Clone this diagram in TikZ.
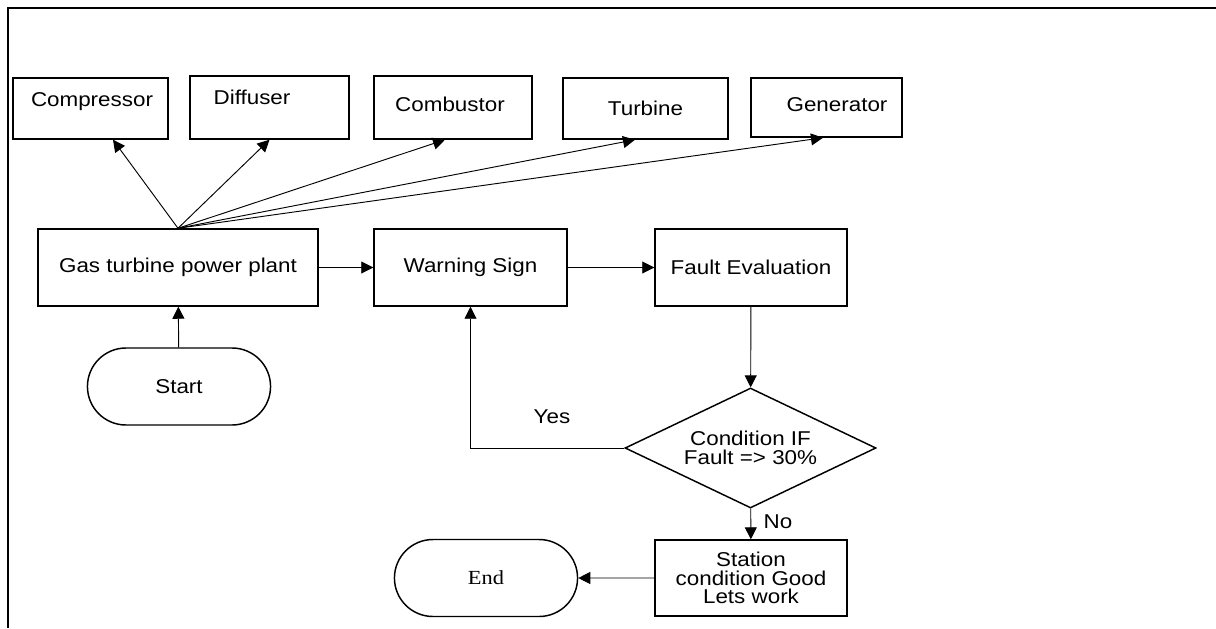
\documentclass[tikz,border=0pt]{standalone}
\usepackage{fontspec}
\setmainfont{Liberation Sans}[FakeStretch=1.12]
\newfontfamily\serifend{Liberation Serif}[FakeStretch=1.12]
\usetikzlibrary{arrows.meta,shapes.geometric,shapes.misc}
\newlength\pxu
\setlength\pxu{0.75pt}

\begin{document}
\begin{tikzpicture}[->,>={Triangle[length=9pt,width=9pt]},x=0.75pt,y=-0.75pt]
        \tikzstyle{every node}=[font=\fontsize{15}{14}\selectfont]
        \tikzstyle{unit}=[rectangle,draw=black,line width=1.1pt,inner sep=0pt,align=center]
        \tikzstyle{terminal}=[rounded rectangle,draw=black,line width=1.1pt,minimum width=192\pxu,minimum height=77\pxu]
        \tikzstyle{decision}=[diamond,draw=black,line width=1.1pt,inner sep=0pt,aspect=2.1,align=center]
        \tikzstyle{edge}=[draw,line width=0.7pt]
        \tikzstyle{frame}=[draw,line width=1.6pt,-]
        \useasboundingbox (0,0) rectangle (1216,628);
        \path[frame] (8,628) -- (8,8) -- (1216,8);
       \begin{scope}
         % plant components
         \node [unit,minimum width=155\pxu,minimum height=61\pxu,label={[xshift=1.5\pxu,yshift=6.5\pxu]center:Compressor}] (comp) at (90.5,108.5) {};
         \node [unit,minimum width=159\pxu,minimum height=63\pxu,label={[xshift=-17.5\pxu,yshift=10.5\pxu]center:Diffuser}] (diff) at (269.5,107.5) {};
         \node [unit,minimum width=158\pxu,minimum height=63\pxu,label={[xshift=-3\pxu,yshift=3.5\pxu]center:Combustor}] (comb) at (453,107.5) {};
         \node [unit,minimum width=165\pxu,minimum height=61\pxu] (turb) at (645.5,108.5) {Turbine};
         \node [unit,minimum width=151\pxu,minimum height=59\pxu,label={[xshift=10.5\pxu,yshift=2.5\pxu]center:Generator}] (gen) at (826.5,107.5) {};
         % main flow
         \node [unit,minimum width=280\pxu,minimum height=77\pxu] (gas) at (178,267.5) {Gas turbine power plant};
         \node [unit,minimum width=193\pxu,minimum height=77\pxu] (warn) at (470.5,267.5) {Warning Sign};
         \node [unit,minimum width=192\pxu,minimum height=77\pxu] (fault) at (751,267.5) {Fault Evaluation};
         \node [terminal] (start) at (179,386.5) {Start};
         \node [decision,minimum width=251\pxu,minimum height=120\pxu] (cond) at (750.5,448) {Condition IF\\Fault => 30\%};
         \node [unit,minimum width=192\pxu,minimum height=76\pxu] (good) at (751,578) {Station\\condition Good\\Lets work};
         \node [terminal,font=\serifend\fontsize{15}{14}\selectfont] (stop) at (486,578) {End};
         \node (yes) at (552,417) {Yes};
         \node (no) at (778,522) {No};
         % connectors
         \path (gas.north) edge[edge] ([xshift=22.5\pxu]comp.south)
                           edge[edge] (diff.south)
                           edge[edge] ([xshift=-8\pxu]comb.south)
                           edge[edge] ([xshift=-10.5\pxu]turb.south)
                           edge[edge] ([xshift=-3.5\pxu]gen.south);
         \path[edge] (start) edge (gas);
         \path[edge] (gas) edge (warn);
         \path[edge] (warn) edge (fault);
         \path[edge] (fault) edge (cond);
         \path[edge] (cond.west) -| (warn.south);
         \path[edge] (cond) edge (good);
         \path[edge] (good) edge (stop);
        \end{scope}
      \end{tikzpicture}
\end{document}
